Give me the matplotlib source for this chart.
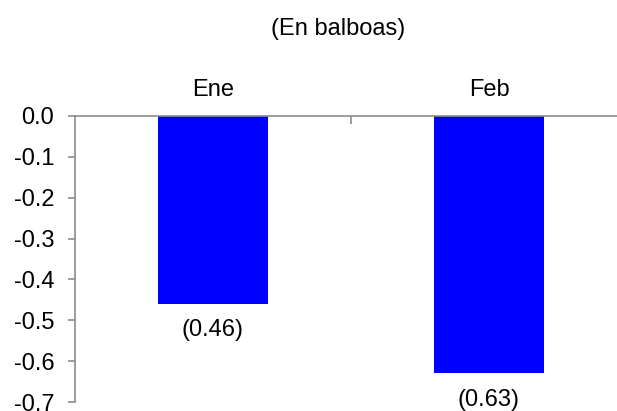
import matplotlib
matplotlib.use("Agg")
import matplotlib.pyplot as plt
from matplotlib.ticker import FixedLocator

categories = ["Ene", "Feb"]
values = [-0.46, -0.63]
labels = ["(0.46)", "(0.63)"]
yticks = [0.0, -0.1, -0.2, -0.3, -0.4, -0.5, -0.6, -0.7]

plt.rcParams['font.family'] = ['Liberation Sans', 'DejaVu Sans']
FS = 17

fig = plt.figure(figsize=(6.17, 4.11), dpi=100)
ax = fig.add_axes([75/617, 1 - 402/411, 1 - 75/617, (402 - 116)/411])

x = list(range(len(categories)))
ax.bar(x, values, width=0.40, color="#0000FF", zorder=2)
ax.set_xlim(-0.5, 1.464)
ax.set_ylim(-0.7, 0.0)

gray = "#8C8C8C"
for s in ["right", "bottom"]:
    ax.spines[s].set_visible(False)
for s in ["left", "top"]:
    ax.spines[s].set_color(gray)
    ax.spines[s].set_linewidth(1.2)
ax.spines["top"].set_zorder(3)

ax.set_yticks(yticks)
ax.set_yticklabels([f"{t:.1f}" for t in yticks], fontsize=FS)
ax.tick_params(axis="y", direction="out", length=5, color=gray, width=1.2, pad=10)

ax.xaxis.tick_top()
ax.set_xticks(x)
ax.set_xticklabels(categories, fontsize=FS)
ax.tick_params(axis="x", which="major", length=0, pad=11)
ax.xaxis.set_minor_locator(FixedLocator([0.5]))
ax.tick_params(axis="x", which="minor", direction="in", length=6, color=gray, width=1.2, top=True, bottom=False)

for xi, v, lab in zip(x, values, labels):
    ax.annotate(lab, (xi, v), xytext=(0, -19), textcoords="offset points",
                ha="center", va="center", fontsize=FS, annotation_clip=False)

fig.text(338/617, 1 - 29/411, "(En balboas)", ha="center", va="center", fontsize=FS)

fig.savefig("out.png", dpi=100)
